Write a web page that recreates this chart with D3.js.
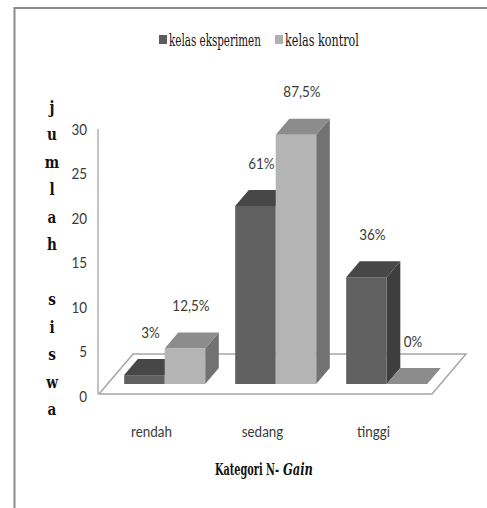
<!DOCTYPE html>
<html>
<head>
<meta charset="utf-8">
<script src="https://cdn.jsdelivr.net/npm/d3@7"></script>
<style>
  html, body { margin: 0; padding: 0; background: #fff; }
  svg { display: block; }
</style>
</head>
<body>
<svg id="chart" width="487" height="508"></svg>
<script>
// N-Gain categories and number of students per class
const categories = ["rendah", "sedang", "tinggi"];
const seriesNames = ["kelas eksperimen", "kelas kontrol"];
const eksperimen = [1, 20, 12];
const kontrol = [4, 28, 0];
const pctEksperimen = ["3%", "61%", "36%"];
const pctKontrol = ["12,5%", "87,5%", "0%"];
const yTicks = [0, 5, 10, 15, 20, 25, 30];
const axisLetters = ["j", "u", "m", "l", "a", "h", "", "s", "i", "s", "w", "a"];

const SANS = "Lato, sans-serif";
const SERIF = "'DejaVu Serif', serif";
const NARROW = 0.84;   // horizontal squeeze for the sans labels

const svg = d3.select("#chart");

// squeeze a left-anchored text horizontally so it spans `width` pixels
function fitText(sel, x, yPos, width) {
  const w = sel.node().getComputedTextLength();
  sel.attr("x", 0).attr("y", 0)
    .attr("transform", `translate(${x},${yPos}) scale(${width / w},1)`);
  return sel;
}
// place a sans label at (x, y), condensed around its anchor
function narrowAt(x, yPos) {
  return `translate(${x},${yPos}) scale(${NARROW},1)`;
}

// frame
svg.append("path")
  .attr("d", "M14.5,508 L14.5,8 L487,8")
  .attr("fill", "none").attr("stroke", "#8c8c8c").attr("stroke-width", 2);

// scales
const y = d3.scaleLinear().domain([0, 30]).range([396, 129]);
const x = d3.scaleBand().domain(categories).range([99, 432]);
const xs = d3.scaleBand().domain(seriesNames).range([0, x.bandwidth()]).paddingOuter(0.37);

// oblique depth projection: full floor depth vector
const depth = { dx: 34, dy: -40 };
const zFront = 0.3, zBack = 0.7;
const off = z => [depth.dx * z, depth.dy * z];

const colors = {
  "kelas eksperimen": { front: "#606060", top: "#474747", side: "#3e3e3e", legend: "#5c5c5c" },
  "kelas kontrol":    { front: "#b4b4b4", top: "#8c8c8c", side: "#727272", legend: "#b0b0b0" }
};

// floor
const [bx, by] = off(1);
const x0 = x.range()[0], x1 = x.range()[1], y0 = y(0) - 2;
svg.append("path")
  .attr("d", `M${x0},${y0} L${x1},${y0} L${x1 + bx},${y0 + by} L${x0 + bx},${y0 + by} Z`)
  .attr("fill", "#fff").attr("stroke", "#a6a6a6").attr("stroke-width", 1.5);

// vertical axis line
svg.append("line")
  .attr("x1", 98).attr("x2", 98)
  .attr("y1", y(30)).attr("y2", y(0) - 2)
  .attr("stroke", "#b0b0b0").attr("stroke-width", 1.5);

// y tick labels
svg.append("g").selectAll("text").data(yTicks).join("text")
  .style("font-family", SANS).attr("fill", "#3a3a3a")
  .attr("transform", d => narrowAt(87, y(d)))
  .attr("dy", "0.35em")
  .attr("text-anchor", "end")
  .attr("font-size", 16)
  .text(d => d);

// bars
const bars = [];
categories.forEach((c, i) => {
  bars.push({ c, s: seriesNames[0], v: eksperimen[i], label: pctEksperimen[i] });
  bars.push({ c, s: seriesNames[1], v: kontrol[i], label: pctKontrol[i] });
});

const [fx, fy] = off(zFront);
const dxBar = depth.dx * (zBack - zFront), dyBar = depth.dy * (zBack - zFront);
const gBars = svg.append("g");

bars.forEach(b => {
  const left = x(b.c) + xs(b.s) + fx;
  const right = left + xs.bandwidth();
  const base = y(0) + fy;
  const top = base - (y(0) - y(b.v));
  const col = colors[b.s];
  // side
  gBars.append("path")
    .attr("d", `M${right},${base} L${right + dxBar},${base + dyBar} L${right + dxBar},${top + dyBar} L${right},${top} Z`)
    .attr("fill", col.side);
  // top
  gBars.append("path")
    .attr("d", `M${left},${top} L${right},${top} L${right + dxBar},${top + dyBar} L${left + dxBar},${top + dyBar} Z`)
    .attr("fill", col.top);
  // front
  if (b.v > 0) {
    gBars.append("rect")
      .attr("x", left).attr("y", top)
      .attr("width", right - left).attr("height", base - top)
      .attr("fill", col.front);
  }
  // value label
  svg.append("text")
    .style("font-family", SANS).attr("fill", "#3a3a3a")
    .attr("transform", narrowAt((left + right) / 2 + 6, top - 43))
    .attr("dy", "0.35em")
    .attr("text-anchor", "middle")
    .attr("font-size", 16)
    .text(b.label);
});

// category labels
svg.append("g").selectAll("text").data(categories).join("text")
  .style("font-family", SANS).attr("fill", "#3a3a3a")
  .attr("transform", d => narrowAt(x(d) + x.bandwidth() / 2 - 3, 431))
  .attr("dy", "0.35em")
  .attr("text-anchor", "middle")
  .attr("font-size", 16)
  .text(d => d);

// x-axis title
const xt1 = svg.append("text")
  .style("font-family", SERIF).attr("fill", "#111")
  .attr("font-size", 17).attr("font-weight", "bold")
  .text("Kategori N-");
fitText(xt1, 215, 475, 64);
const xt2 = svg.append("text")
  .style("font-family", SERIF).attr("fill", "#111")
  .attr("font-size", 17).attr("font-weight", "bold").attr("font-style", "italic")
  .text("Gain");
fitText(xt2, 283, 475, 30);

// y-axis title, stacked letters
svg.append("g").selectAll("text").data(axisLetters).join("text")
  .style("font-family", SERIF).attr("fill", "#111")
  .attr("transform", (d, i) => `translate(52,${107 + i * 27.5}) scale(0.85,1)`)
  .attr("dy", "0.35em")
  .attr("text-anchor", "middle")
  .attr("font-size", 16)
  .attr("font-weight", "bold")
  .text(d => d);

// legend
const legendX = [159, 275];
const legendW = [92, 74];
const lg = svg.append("g").selectAll("g").data(seriesNames).join("g")
  .attr("transform", (d, i) => `translate(${legendX[i]},40)`);
lg.append("rect")
  .attr("x", 0).attr("y", -5).attr("width", 8).attr("height", 9)
  .attr("fill", d => colors[d].legend);
lg.append("text")
  .style("font-family", SERIF).attr("fill", "#111")
  .attr("font-size", 16)
  .attr("dy", "0.35em")
  .text(d => d)
  .each(function (d, i) { fitText(d3.select(this), 10, 0, legendW[i]); });
</script>
</body>
</html>
